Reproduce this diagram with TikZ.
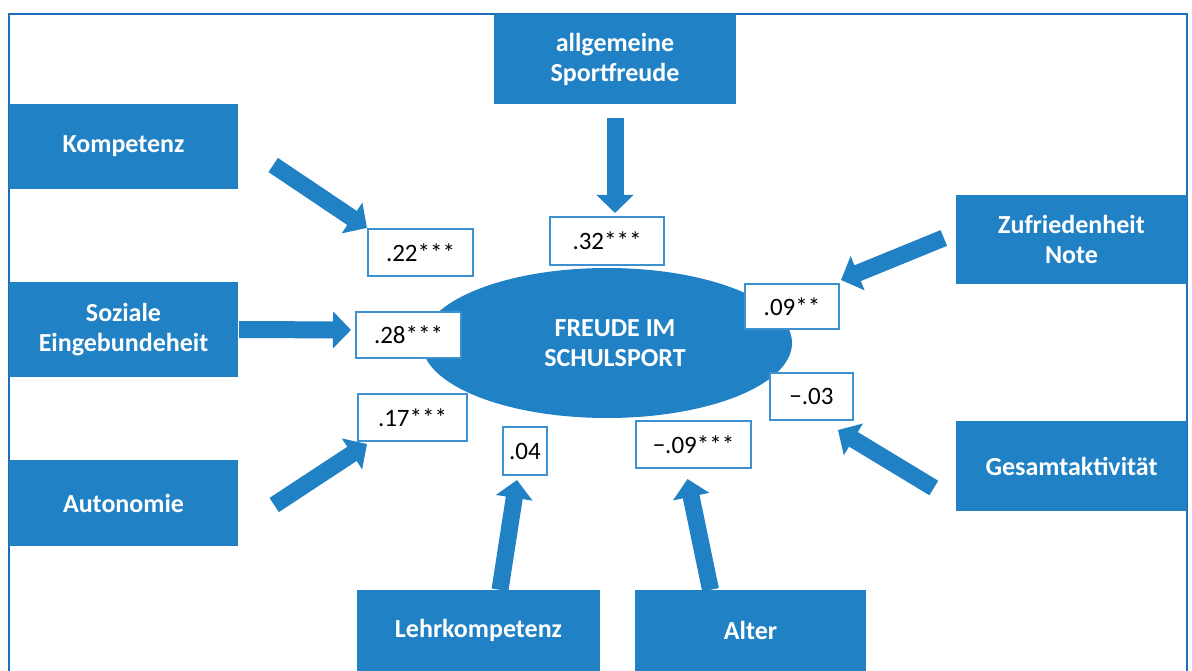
\documentclass[tikz,border=0pt]{standalone}
\usepackage{fontspec}
\setmainfont{Carlito}
\usepackage{tikz}
\usetikzlibrary{shapes.geometric, arrows.meta, positioning}

\definecolor{boxblue}{RGB}{33,129,197}
\definecolor{lineblue}{RGB}{62,145,208}
\definecolor{frameblue}{RGB}{30,110,190}

\begin{document}
\begin{tikzpicture}[
        x=1pt, y=-1pt,
        factor/.style={fill=boxblue, text=white, align=center, inner sep=0pt,
          font=\bfseries\fontsize{26}{30}\selectfont},
        coef/.style={draw=lineblue, line width=2pt, fill=white, inner sep=0pt,
          font=\fontsize{25}{30}\selectfont},
        effect/.style={boxblue, line width=17pt, -{Triangle[width=36pt, length=18pt]}},
    ]
        \useasboundingbox (0,0) rectangle (1192,671);
        \draw[frameblue, line width=2pt] (9,672) -- (9,14) -- (1187,14) -- (1187,672);

        % predictors
        \node[factor, minimum width=242pt, minimum height=90pt] (sport) at (615,59) {allgemeine\\Sportfreude};
        \node[factor, minimum width=229pt, minimum height=85pt] (komp) at (123.5,146.5) {Kompetenz};
        \node[factor, minimum width=229pt, minimum height=95pt] (sozial) at (123.5,329.5) {Soziale\\Eingebundeheit};
        \node[factor, minimum width=229pt, minimum height=86pt] (auto) at (123.5,503) {Autonomie};
        \node[factor, minimum width=231pt, minimum height=89pt] (zufr) at (1071.5,239.5) {Zufriedenheit\\Note};
        \node[factor, minimum width=231pt, minimum height=90pt] (gesamt) at (1071.5,466) {Gesamtaktivität};
        \node[factor, minimum width=243pt, minimum height=81pt] (lehr) at (478.5,630.5) {Lehrkompetenz};
        \node[factor, minimum width=231pt, minimum height=81pt] (alter) at (750.5,630.5) {Alter};

        % outcome
        \node[factor, ellipse, minimum width=370pt, minimum height=150pt,
          label={[factor, fill=none, xshift=8pt]center:FREUDE IM\\SCHULSPORT}] (freude) at (607,343) {};

        % coefficients
        \node[coef, minimum width=105pt, minimum height=47pt] (v22) at (420.5,252.5) {.22***};
        \node[coef, minimum width=114pt, minimum height=48pt] (v32) at (607,241) {.32***};
        \node[coef, minimum width=105pt, minimum height=46pt] (v28) at (408.5,335) {.28***};
        \node[coef, minimum width=94pt, minimum height=45pt] (v09) at (792,306.5) {.09**};
        \node[coef, minimum width=83pt, minimum height=47pt] (v03) at (811.5,396.5) {−.03};
        \node[coef, minimum width=109pt, minimum height=47pt] (v17) at (412.5,417.5) {.17***};
        \node[coef, minimum width=44pt, minimum height=48pt] (v04) at (525,451) {.04};
        \node[coef, minimum width=115pt, minimum height=47pt] (v09b) at (693.5,444.5) {−.09***};

        \draw[effect] ([shift={(35,18.5)}]komp.east) -- (v22.north west);
        \draw[effect] ([shift={(0,14)}]sport.south) -- ([shift={(8,-3)}]v32.north);
        \draw[effect] ([shift={(1,0)}]sozial.east) -- ([shift={(-4,-5)}]v28.west);
        \draw[effect] ([shift={(36,2)}]auto.east) -- ([shift={(10,2)}]v17.south west);
        \draw[effect] ([shift={(21.5,0)}]lehr.north) -- ([shift={(-8,4)}]v04.south);
        \draw[effect] ([shift={(-40,0)}]alter.north) -- ([shift={(-6,10)}]v09b.south);
        \draw[effect] ([shift={(-12,-1.5)}]zufr.west) -- ([shift={(1,-3)}]v09.north east);
        \draw[effect] ([shift={(-22,22)}]gesamt.west) -- ([shift={(-16,9)}]v03.south east);
    \end{tikzpicture}
\end{document}
